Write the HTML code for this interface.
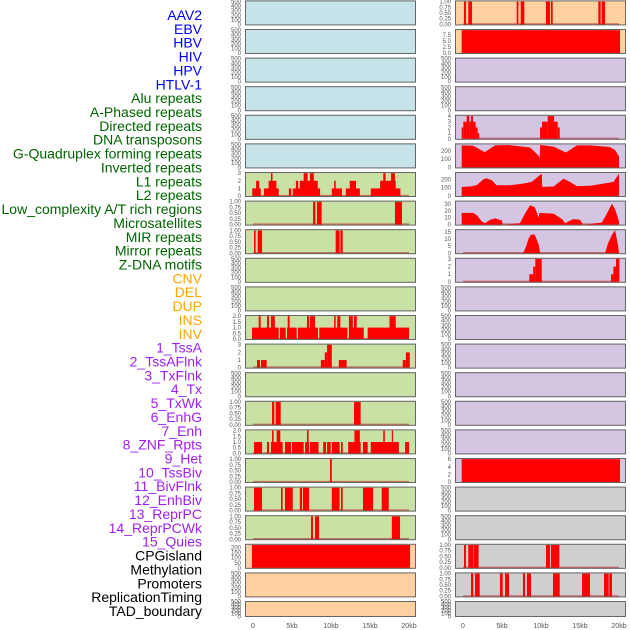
<!DOCTYPE html>
<html><head><meta charset="utf-8"><style>
body{margin:0;background:#fff;}
svg{display:block;font-family:"Liberation Sans",sans-serif;}
</style></head><body>
<svg id="chart" width="630" height="630" viewBox="0 0 630 630"></svg>
<script>
const trackLabels = ["AAV2","EBV","HBV","HIV","HPV","HTLV-1","Alu repeats","A-Phased repeats","Directed repeats","DNA transposons","G-Quadruplex forming repeats","Inverted repeats","L1 repeats","L2 repeats","Low_complexity A/T rich regions","Microsatellites","MIR repeats","Mirror repeats","Z-DNA motifs","CNV","DEL","DUP","INS","INV","1_TssA","2_TssAFlnk","3_TxFlnk","4_Tx","5_TxWk","6_EnhG","7_Enh","8_ZNF_Rpts","9_Het","10_TssBiv","11_BivFlnk","12_EnhBiv","13_ReprPC","14_ReprPCWk","15_Quies","CPGisland","Methylation","Promoters","ReplicationTiming","TAD_boundary"];
const labelGroups = [6,13,5,15,5];
const xTickValues = [0,5,10,15,20];
const xTickLabels = ["0","5kb","10kb","15kb","20kb"];

// segments: [startKb, endKb, value]
const L6 = [[-0.1,1.0,1],[0.4,0.8,2],[1.4,3.3,1],[2.0,3.0,2],[2.3,2.5,3],[4.6,4.9,1],[5.1,8.6,1],[5.5,5.8,2],[6.0,8.3,2],[6.5,7.0,3],[7.3,7.8,3],[10.1,11.4,1],[10.4,10.6,2],[11.9,13.7,1],[12.4,13.2,2],[15.1,18.9,1],[16.3,18.3,2],[16.7,17.0,3],[17.7,18.2,3]];
const L7 = [[7.7,8.0,1],[8.2,8.8,1],[18.2,19.1,1]];
const L8 = [[0.13,0.34,1],[0.6,1.16,1],[10.6,11.1,1],[11.2,11.5,1]];
const L11 = [[-0.13,3.3,1],[3.46,4.2,1],[4.36,5.6,1],[5.77,8.33,1],[8.5,12.1,1],[12.3,14.2,1],[14.7,20.0,1],[0.73,0.98,2],[1.8,2.05,2],[2.3,2.8,2],[4.45,4.7,2],[6.92,7.18,2],[7.3,7.95,2],[10.4,10.6,2],[10.8,11.2,2],[12.3,12.8,2],[12.95,13.3,2],[17.5,18.3,2]];
const L12 = [[0.51,0.9,1],[1.03,1.75,1],[8.7,9.2,1],[9.2,9.5,2],[9.5,10.1,3],[11.0,12.0,1],[19.2,19.6,1],[19.6,20.1,2]];
const L14 = [[2.44,2.73,1],[2.9,3.55,1],[12.95,13.8,1]];
const L15 = [[0.13,1.16,1],[1.8,2.05,1],[2.3,3.8,1],[4.1,4.87,1],[5.0,6.5,1],[6.67,7.18,1],[7.3,8.4,1],[9.0,9.36,1],[9.5,9.96,1],[10.1,11.1,1],[11.28,11.5,1],[12.2,13.8,1],[14.1,14.7,1],[15.1,18.7,1],[19.5,20.0,1],[2.44,2.65,2],[3.03,3.5,2],[6.92,7.13,2],[13.0,13.7,2],[16.7,16.9,2],[17.8,17.95,2]];
const L16 = [[9.87,10.1,1]];
const L17 = [[0.13,1.16,1],[3.59,3.8,1],[4.1,5.1,1],[6.0,6.28,1],[6.4,7.18,1],[10.1,11.1,1],[11.28,11.5,1],[14.1,15.4,1],[16.5,17.4,1]];
const L18 = [[7.44,7.69,1],[7.95,8.46,1],[17.8,18.85,1]];
const L19 = [[-0.13,20.13,225]];
const R0 = [[0.13,0.38,1],[0.68,1.15,1],[6.88,7.1,1],[7.4,7.86,1],[10.64,11.16,1],[11.28,11.5,1],[17.35,17.65,1],[17.78,18.2,1]];
const R1 = [[-0.17,20.13,9.6]];
const R4 = [[-0.17,0.04,2],[0.04,0.47,3],[0.47,0.81,4],[0.81,1.03,3],[1.03,1.28,4],[1.28,1.62,3],[1.62,1.88,2],[1.88,2.09,1],[9.87,10.13,2],[10.13,10.86,3],[10.86,11.67,4],[11.67,12.14,3],[12.14,12.4,2]];
const R9 = [[8.5,9.0,1],[9.0,9.27,2],[9.27,10.09,3],[18.98,19.28,1],[19.28,19.62,2],[19.62,20.05,3]];
const R16 = [[-0.17,20.13,6]];
const R19 = [[0.13,0.38,1],[0.68,1.32,1],[1.37,2.0,1],[10.64,11.16,1],[11.28,12.35,1]];
const R20 = [[1.03,1.32,1],[1.54,2.14,1],[4.74,5.09,1],[5.39,5.9,1],[7.69,7.95,1],[8.2,8.72,1],[11.54,12.4,1],[15.26,16.28,1],[18.08,18.68,1],[18.76,19.1,1]];
// profiles: [kb, value]
const R5 = [[-0.17,265],[1.3,260],[2.8,185],[4.1,265],[5.8,270],[8.6,240],[9.6,150],[9.85,115],[9.9,270],[11.6,250],[13.2,180],[14.6,265],[16.3,265],[18.8,245],[19.5,210],[20.0,130]];
const R6 = [[-0.17,110],[0.9,115],[1.75,130],[2.6,200],[3.0,215],[3.7,190],[4.3,130],[6.0,130],[7.7,150],[8.8,170],[9.2,200],[9.7,240],[10.1,270],[10.15,110],[11.6,115],[12.9,210],[13.7,170],[14.6,120],[16.3,125],[18.0,150],[19.3,170],[20.0,270]];
const R7 = [[-0.17,17],[1.3,17],[1.75,14],[2.4,5],[2.8,2],[3.5,7],[4.1,9],[5.0,6],[5.05,0],[7.3,2],[7.9,15],[8.6,28],[9.2,25],[9.7,10],[9.8,17],[11.6,16],[12.7,8],[13.1,2],[14.1,8],[15.0,7],[15.4,0],[17.8,3],[18.4,15],[19.1,30],[19.5,22],[20.0,5]];
const R8 = [[7.7,0],[8.1,5],[8.4,10],[8.7,13],[9.2,13],[9.7,6],[9.9,0],[18.2,0],[18.6,7],[19.1,13],[19.5,16],[19.9,5],[20.0,0]];

const tEmpty=["0","100","200","300","400","500"], tBin=["0.00","0.25","0.50","0.75","1.00"];
const t3=["0","1","2","3"], t2=["0.0","0.5","1.0","1.5","2.0"];
const BLUE="#c6e3ea",GREEN="#c9e1a4",PEACH="#ffd0a0",PURP="#d4c5e2",GREY="#cfcfcf";
const leftPanels=[];
for(let i=0;i<22;i++){leftPanels.push({bg:i<6?BLUE:(i<19?GREEN:PEACH),ticks:tEmpty,top:500,segs:null});}
Object.assign(leftPanels[6],{ticks:t3,top:3,segs:L6});
Object.assign(leftPanels[7],{ticks:tBin,top:1,segs:L7});
Object.assign(leftPanels[8],{ticks:tBin,top:1,segs:L8});
Object.assign(leftPanels[11],{ticks:t2,top:2,segs:L11});
Object.assign(leftPanels[12],{ticks:t3,top:3,segs:L12});
Object.assign(leftPanels[14],{ticks:tBin,top:1,segs:L14});
Object.assign(leftPanels[15],{ticks:t2,top:2,segs:L15});
Object.assign(leftPanels[16],{ticks:tBin,top:1,segs:L16});
Object.assign(leftPanels[17],{ticks:tBin,top:1,segs:L17});
Object.assign(leftPanels[18],{ticks:tBin,top:1,segs:L18});
Object.assign(leftPanels[19],{ticks:["0","50","100","150","200"],top:225,segs:L19});
const rightPanels=[];
for(let i=0;i<22;i++){rightPanels.push({bg:i<2?PEACH:(i<17?PURP:GREY),ticks:tEmpty,top:500,segs:null});}
Object.assign(rightPanels[0],{ticks:tBin,top:1,segs:R0});
Object.assign(rightPanels[1],{ticks:["0.0","2.5","5.0","7.5"],top:9.6,segs:R1});
Object.assign(rightPanels[4],{ticks:["0","1","2","3","4"],top:4,segs:R4});
Object.assign(rightPanels[5],{ticks:["0","100","200"],top:275,prof:R5});
Object.assign(rightPanels[6],{ticks:["0","100","200"],top:275,prof:R6});
Object.assign(rightPanels[7],{ticks:["0","10","20","30"],top:33,prof:R7});
Object.assign(rightPanels[8],{ticks:["0","5","10","15"],top:16,prof:R8});
Object.assign(rightPanels[9],{ticks:t3,top:3,segs:R9});
Object.assign(rightPanels[16],{ticks:["0","2","4","6"],top:6,segs:R16});
Object.assign(rightPanels[19],{ticks:tBin,top:1,segs:R19});
Object.assign(rightPanels[20],{ticks:tBin,top:1,segs:R20});

const NS="http://www.w3.org/2000/svg";
const svg=document.getElementById('chart');
function mk(tag,attrs,parent){const e=document.createElementNS(NS,tag);for(const k in attrs)e.setAttribute(k,attrs[k]);(parent||svg).appendChild(e);return e;}

// labels
const groupColors=["#0000ff","#006400","#ffa500","#a020f0","#000000"];
let gi=0,gc=0;
trackLabels.forEach((t,i)=>{
  const el=mk('text',{x:202,y:15+i*13.86+5,'text-anchor':'end','font-size':14,fill:groupColors[gi]});
  el.textContent=t;
  
  
  gc++; if(gc>=labelGroups[gi]){gi++;gc=0;}
});

function drawColumn(panels,x0,x1,zeroX,side){
  const kx=v=>zeroX+v*(156/20);
  panels.forEach((p,i)=>{
    const top=0.4+28.6*i, h=(i===21)?16:25;
    const g=mk('g',{});
    
    
    mk('rect',{x:x0,y:top,width:x1-x0,height:h,fill:p.bg},g);
    const lo=-0.04*p.top, hi=1.05*p.top;
    const ky=v=>top+h-(v-lo)/(hi-lo)*h;
    if(p.segs){
      mk('line',{x1:kx(0),x2:kx(20),y1:ky(0)-0.5,y2:ky(0)-0.5,stroke:'rgba(190,40,40,0.6)','stroke-width':1.5},g);
      p.segs.forEach(s=>{
        const r=mk('rect',{x:kx(s[0]),y:ky(s[2]),width:Math.max(0.8,kx(s[1])-kx(s[0])),height:ky(0)-ky(s[2]),fill:'#ff0000'},g);
        
        
      });
    }
    if(p.prof){
      mk('line',{x1:kx(0),x2:kx(20),y1:ky(0)-0.5,y2:ky(0)-0.5,stroke:'rgba(190,40,40,0.6)','stroke-width':1.5},g);
      let pts=p.prof.map(q=>kx(q[0]).toFixed(1)+','+ky(q[1]).toFixed(1));
      pts.unshift(kx(p.prof[0][0]).toFixed(1)+','+ky(0).toFixed(1));
      pts.push(kx(p.prof[p.prof.length-1][0]).toFixed(1)+','+ky(0).toFixed(1));
      const pl=mk('polygon',{points:pts.join(' '),fill:'#ff0000'},g);
      
      
    }
    mk('rect',{x:x0+0.5,y:top+0.5,width:x1-x0-1,height:h-1,fill:'none',stroke:'#666','stroke-width':1},g);
    p.ticks.forEach(t=>{
      const v=parseFloat(t);
      const tx=mk('text',{x:x0-4,y:ky(v)+2,'text-anchor':'end','font-size':6,fill:'#555'},g);
      tx.textContent=t;
    });
  });
  xTickValues.forEach((v,i)=>{
    const t=mk('text',{x:kx(v),y:628,'text-anchor':'middle','font-size':7,fill:'#555'});
    t.textContent=xTickLabels[i];
    
    
  });
}
drawColumn(leftPanels,245,416,253,'left');
drawColumn(rightPanels,455,626,463,'right');
</script>
</body></html>
